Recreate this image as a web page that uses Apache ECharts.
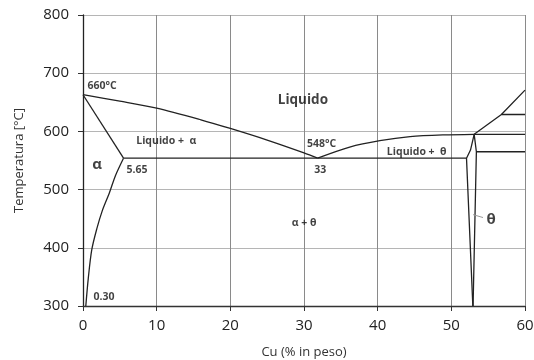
<!DOCTYPE html>
<html>
<head>
<meta charset="utf-8">
<script src="https://cdn.jsdelivr.net/npm/echarts@6/dist/echarts.min.js"></script>
<style>
  html, body { margin: 0; padding: 0; background: #fff; }
  #chart { width: 534px; height: 360px; }
</style>
</head>
<body>
<div id="chart"></div>
<script>
// assi
const xTicks = [0, 10, 20, 30, 40, 50, 60];
const yTicks = [300, 400, 500, 600, 700, 800];

// curve del diagramma Al-Cu [Cu %, T °C]
const liquidusAlpha = [[0, 663], [5, 652], [10, 640], [16, 620], [20, 605], [25, 585], [30, 563], [31.85, 554]];
const solidusAlpha = [[0, 663], [5.5, 554]];
const solvusAlpha = [[5.5, 554], [4.4, 524], [3.6, 495], [2.6, 463], [1.86, 432], [1.18, 396], [0.72, 348], [0.38, 300]];
const eutectic = [[5.5, 554], [52.06, 554]];
const liquidusTheta = [[31.85, 554], [36.2, 573], [40.3, 584], [44.4, 591], [48.9, 594], [53.1, 595]];
const thetaLeft = [[53.1, 595], [52.6, 568], [52.06, 554], [52.92, 300]];
const thetaRight = [[53.1, 595], [53.4, 565], [52.95, 300]];
const upperRight = [[53.1, 595], [56.8, 629], [60, 671]];
const line629 = [[56.8, 629], [60, 629]];
const line595 = [[53.1, 595], [60, 595]];
const line565 = [[53.4, 565], [60, 565]];
const thetaLeader = [[52.95, 457], [54.3, 452]];

// etichette [Cu, T, testo]
const labels = [
  [2.6, 678, '660°C'],
  [29.85, 653, 'Liquido'],
  [11.3, 583, 'Liquido +  α'],
  [1.9, 543, 'α'],
  [7.33, 533, '5.65'],
  [32.4, 579, '548°C'],
  [32.2, 534, '33'],
  [45.3, 564, 'Liquido +  θ'],
  [30, 442, 'α + θ'],
  [55.4, 448, 'θ'],
  [2.85, 315, '0.30']
];
const bigLabels = { 'Liquido': 13.5, 'α': 15, 'θ': 15 };

const font = '"Open Sans", "DejaVu Sans", sans-serif';

function curve(data, smooth, color, width) {
  return {
    type: 'line',
    data: data,
    smooth: smooth || false,
    showSymbol: false,
    symbol: 'none',
    silent: true,
    lineStyle: { color: color || '#222', width: width || 1.3 },
    z: 3
  };
}

const chart = echarts.init(document.getElementById('chart'));

const series = [
  curve(liquidusAlpha, 0.3),
  curve(solidusAlpha),
  curve(solvusAlpha, 0.3),
  curve(eutectic),
  curve(liquidusTheta, 0.3),
  curve(thetaLeft),
  curve(thetaRight),
  curve(upperRight),
  curve(line629),
  curve(line595),
  curve(line565),
  curve(thetaLeader, false, '#999', 1)
];

series.push({
  type: 'scatter',
  symbolSize: 0,
  silent: true,
  z: 5,
  data: labels.map(l => ({
    value: [l[0], l[1]],
    label: {
      show: true,
      position: 'inside',
      formatter: l[2],
      color: '#111',
      fontFamily: font,
      fontWeight: 'bold',
      fontSize: bigLabels[l[2]] || 10.5
    }
  }))
});

const option = {
  animation: false,
  backgroundColor: '#fff',
  grid: { left: 83, right: 9, top: 15, bottom: 54, outerBoundsMode: 'none', containLabel: false },
  xAxis: {
    type: 'value',
    min: xTicks[0],
    max: xTicks[xTicks.length - 1],
    interval: 10,
    name: 'Cu (% in peso)',
    nameLocation: 'middle',
    nameGap: 40,
    nameTextStyle: { color: '#333', fontSize: 13, fontFamily: font },
    axisLine: { show: true, lineStyle: { color: '#333', width: 1.3 } },
    axisTick: { show: true, length: 5, lineStyle: { color: '#333' } },
    axisLabel: { color: '#222', fontSize: 15, fontFamily: font, margin: 12 },
    splitLine: { show: true, lineStyle: { color: '#8a8a8a', width: 1 } }
  },
  yAxis: {
    type: 'value',
    min: yTicks[0],
    max: yTicks[yTicks.length - 1],
    interval: 100,
    name: 'Temperatura [°C]',
    nameLocation: 'middle',
    nameGap: 57,
    nameTextStyle: { color: '#333', fontSize: 13, fontFamily: font },
    axisLine: { show: true, lineStyle: { color: '#222', width: 1.3 } },
    axisTick: { show: true, length: 5, lineStyle: { color: '#333' } },
    axisLabel: { color: '#222', fontSize: 15, fontFamily: font, margin: 14 },
    splitLine: { show: true, lineStyle: { color: '#b5b5b5', width: 1 } }
  },
  series: series
};

chart.setOption(option);
</script>
</body>
</html>
